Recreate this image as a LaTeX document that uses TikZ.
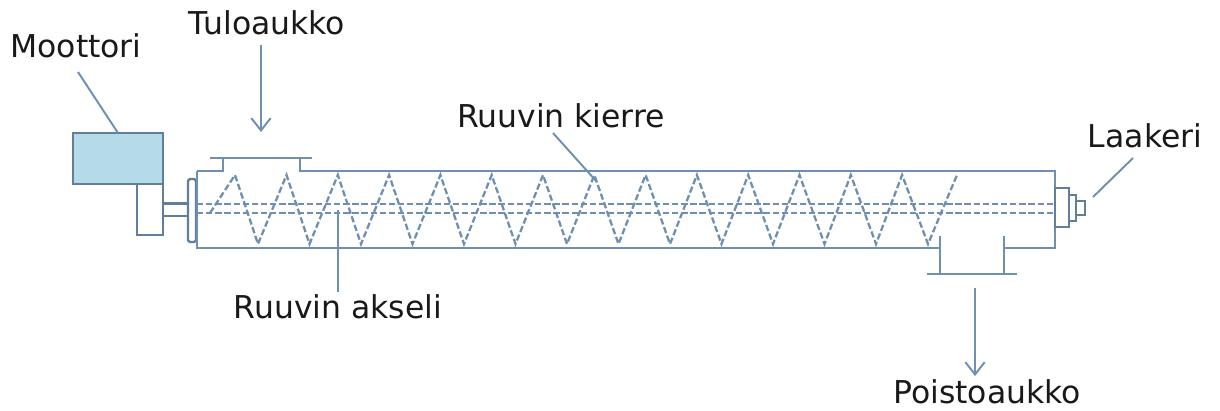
\documentclass[tikz,border=0pt]{standalone}
\usepackage{fontspec}
\setmainfont{DejaVu Sans}
\usetikzlibrary{arrows.meta}
\definecolor{linecol}{HTML}{6F8FB0}
\definecolor{darkcol}{HTML}{5F7F9C}
\definecolor{motorcol}{HTML}{B5DBE8}
\tikzset{
  part/.style={draw=linecol,line width=1.3pt},
  darkpart/.style={draw=darkcol,line width=1.4pt},
  hidden/.style={draw=linecol,line width=1.3pt,dash pattern=on 3.6pt off 1.6pt},
  leader/.style={draw=linecol,line width=1.1pt},
  flow/.style={leader,-{Straight Barb[length=7pt,width=11pt]}},
  label/.style={font=\fontsize{17.9}{21}\selectfont,text=black!90,inner sep=0pt}
}
\begin{document}
\begin{tikzpicture}[x=0.02cm,y=-0.02cm]
\useasboundingbox (0,0) rectangle (1220,410);
% motor and gearbox
\draw[darkpart,fill=motorcol] (73,133) rectangle (163,184);
\draw[darkpart] (137,184) rectangle (163,235);
\draw[darkpart] (163,203.5) -- (188,203.5);
\draw[darkpart] (163,216) -- (188,216);
\draw[darkpart,rounded corners=1pt] (188,179) rectangle (196,242);
% casing with inlet and outlet
\draw[part] (197,171) -- (223,171) -- (223,158);
\draw[part] (210,158) -- (312,158);
\draw[part] (300,158) -- (300,171) -- (1055,171) -- (1055,248) -- (1004,248);
\draw[part] (1004,236) -- (1004,274);
\draw[part] (940,236) -- (940,274);
\draw[part] (927,274) -- (1017,274);
\draw[part] (940,248) -- (197,248) -- (197,171);
% bearing
\draw[darkpart] (1055,188) rectangle (1069,227);
\draw[darkpart] (1069,195) rectangle (1076,221);
\draw[darkpart] (1076,201) rectangle (1085,215);
% shaft
\draw[hidden] (197,204) -- (1055,204);
\draw[hidden] (197,213) -- (1055,213);
% screw
\draw[hidden] (210,213) -- (235,175)
  \foreach \i in {0,...,12} {
    -- ({258+51.5*\i},244) -- ({286.5+51.5*\i-0.2*\i},175)
  } -- (928,244) -- (957,175);
% labels
\node[label] (moottori) at (76,46) {Moottori};
\node[label] (tuloaukko) at (267,23) {Tuloaukko};
\node[label] (kierre) at (561,116) {Ruuvin kierre};
\node[label] (laakeri) at (1145,136) {Laakeri};
\node[label] (akseli) at (338,307) {Ruuvin akseli};
\node[label] (poistoaukko) at (987,392) {Poistoaukko};
% leaders
\coordinate (motortop) at (118,133);
\coordinate (moottorifoot) at (78,72);
\coordinate (inlet) at (261,132);
\coordinate (tulofoot) at (261,45);
\coordinate (thread) at (597,182);
\coordinate (kierrefoot) at (553,133);
\coordinate (bearing) at (1093,197);
\coordinate (laakerifoot) at (1133,158);
\coordinate (shaft) at (338,210);
\coordinate (akselifoot) at (338,292);
\coordinate (outlet) at (975,288);
\coordinate (poistofoot) at (975,376);
\draw[leader] (moottorifoot) -- (motortop);
\draw[flow] (tulofoot) -- (inlet);
\draw[leader] (kierrefoot) -- (thread);
\draw[leader] (laakerifoot) -- (bearing);
\draw[leader] (akselifoot) -- (shaft);
\draw[flow] (outlet) -- (poistofoot);
\end{tikzpicture}
\end{document}
